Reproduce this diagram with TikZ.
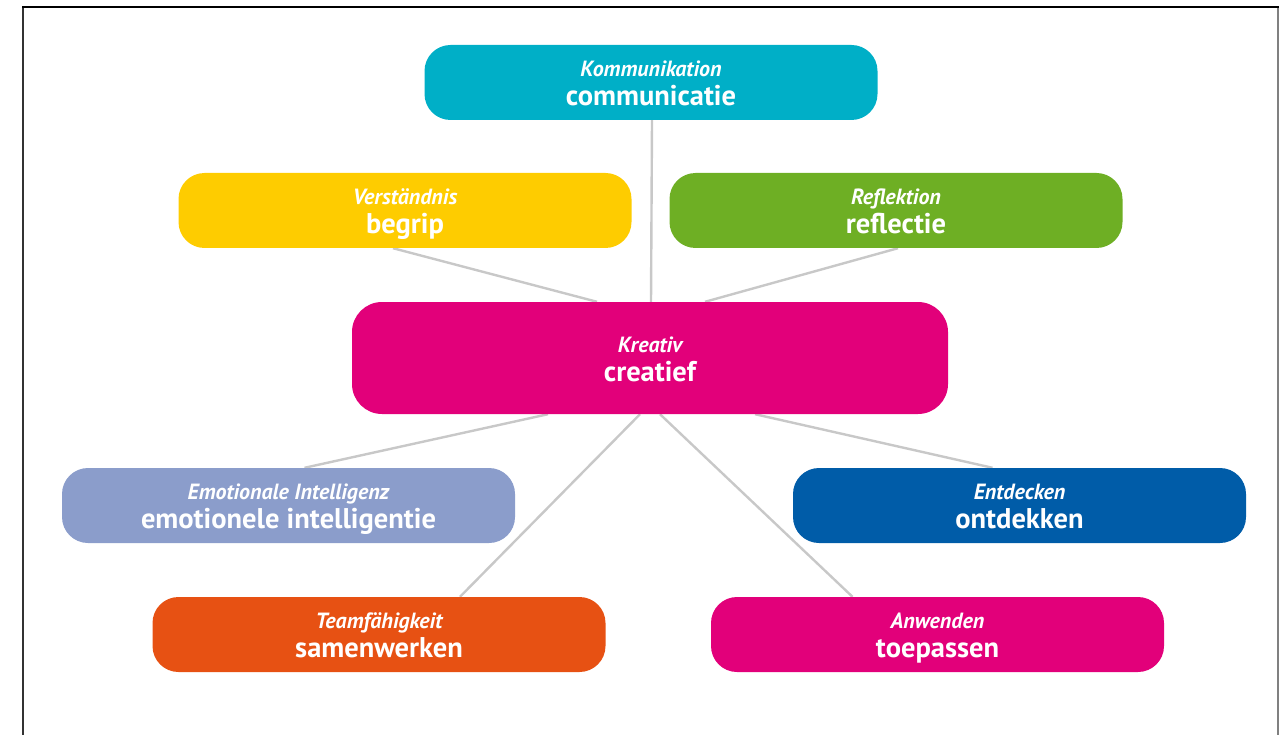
\documentclass[tikz,border=0pt]{standalone}
\usepackage{fontspec}
\setmainfont{PT Sans}
\usetikzlibrary{backgrounds}
\definecolor{cKomm}{RGB}{0,175,199}
\definecolor{cVerst}{RGB}{254,204,0}
\definecolor{cRefl}{RGB}{110,175,36}
\definecolor{cKrea}{RGB}{226,0,122}
\definecolor{cEmot}{RGB}{139,157,203}
\definecolor{cEntd}{RGB}{0,92,168}
\definecolor{cTeam}{RGB}{231,81,19}
\definecolor{cLink}{RGB}{200,200,200}
% two-line label: German term (italic) above Dutch term (bold);
% the first row gets a fixed ascent so every box places its text alike
\newcommand\termpair[2]{%
  \setbox0\vbox{\baselineskip=29pt\lineskiplimit=-100pt
    \halign{\hfil##\hfil\cr
      \vrule height 16.5pt width 0pt\fontsize{22}{22}\selectfont\bfseries\itshape #1\cr
      \fontsize{28.5}{28.5}\selectfont\bfseries #2\cr}}%
  \ht0=45pt \dp0=0pt \box0}
\begin{document}
\begin{tikzpicture}[x=1pt,y=-1pt,
  termbox/.style={rounded corners=26pt, minimum width=453pt, minimum height=75pt,
    inner sep=0pt, text=white, draw=none},
  link/.style={draw=cLink, line width=2.4pt}]
\useasboundingbox (0,0) rectangle (1281,735);
% frame
\draw[line width=1.4pt, black!80] (23,7) -- (23,735);
\draw[line width=2pt, black!50] (1278,7) -- (1278,735);
\draw[line width=1.4pt, black] (22.3,7) -- (1279,7);
% nodes
\node[termbox, fill=cKomm] (komm) at (651,82.5) {\termpair{Kommunikation}{communicatie}};
\node[termbox, fill=cVerst] (verst) at (405,210.5) {\termpair{Verständnis}{begrip}};
\node[termbox, fill=cRefl] (refl) at (896,210.5) {\termpair{Reflektion}{reflectie}};
\node[termbox, fill=cKrea, minimum width=596pt, minimum height=112pt, rounded corners=30pt] (krea) at (650,358) {\termpair{Kreativ}{creatief}};
\node[termbox, fill=cEmot] (emot) at (288.5,505.5) {\termpair{Emotionale Intelligenz}{emotionele intelligentie}};
\node[termbox, fill=cEntd] (entd) at (1019.5,505.5) {\termpair{Entdecken}{ontdekken}};
\node[termbox, fill=cTeam] (team) at (379,634.5) {\termpair{Teamfähigkeit}{samenwerken}};
\node[termbox, fill=cKrea] (anw) at (937.5,634.5) {\termpair{Anwenden}{toepassen}};
% connectors, drawn behind the boxes
\begin{scope}[on background layer]
\draw[link] ([xshift=1pt]komm.south) -- ([xshift=1pt]krea.north);
\draw[link] ([xshift=-12pt]verst.south) -- ([xshift=-53pt]krea.north);
\draw[link] ([xshift=2pt]refl.south) -- ([xshift=55pt]krea.north);
\draw[link] ([xshift=16pt]emot.north) -- ([xshift=-102pt]krea.south);
\draw[link] ([xshift=81pt]team.north) -- ([xshift=-10pt]krea.south);
\draw[link] ([xshift=-85pt]anw.north) -- ([xshift=10pt]krea.south);
\draw[link] ([xshift=-27pt]entd.north) -- ([xshift=105pt]krea.south);
\end{scope}
\end{tikzpicture}
\end{document}
